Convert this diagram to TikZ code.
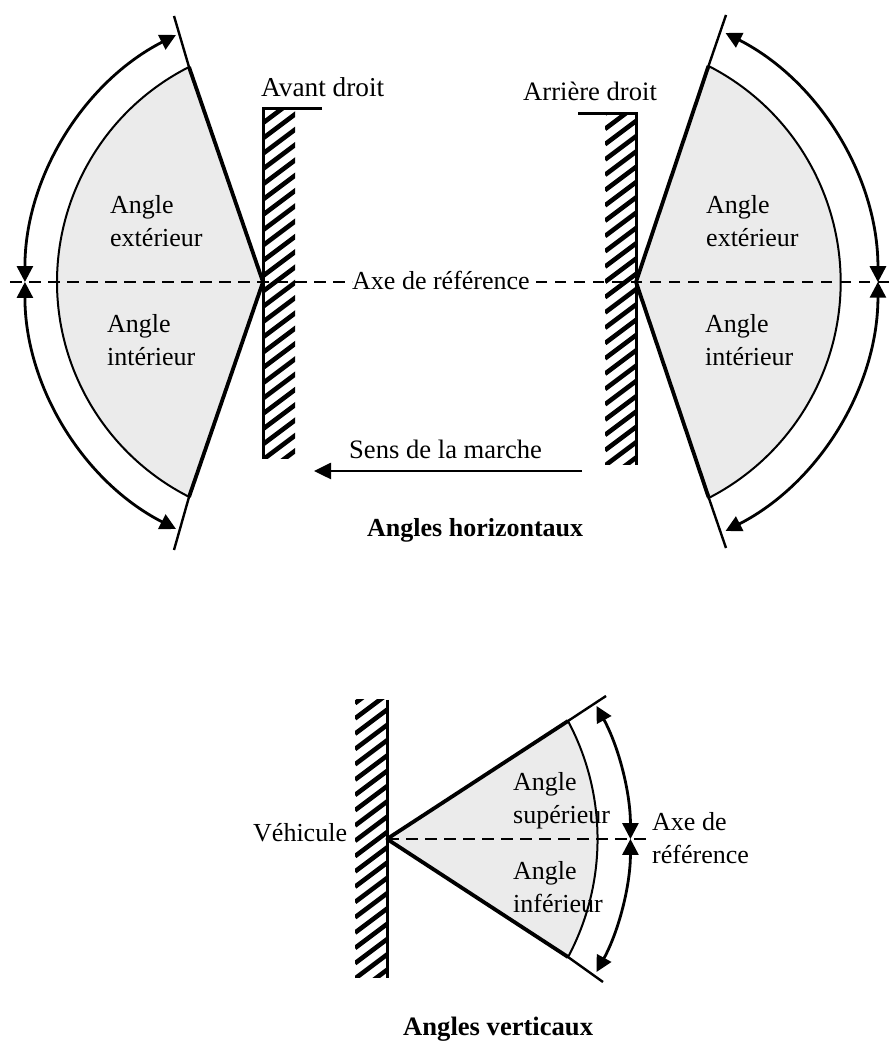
\documentclass[tikz,border=0pt]{standalone}
\usepackage{fontspec}
\setmainfont{Liberation Serif}
\usetikzlibrary{arrows.meta}
\tikzstyle{txt}=[inner sep=0pt, align=left, font=\fontsize{26}{33}\selectfont]
\tikzstyle{wide}=[txt, font=\fontsize{26.6}{33}\selectfont]
\tikzstyle{title}=[inner sep=0pt, font=\fontsize{26}{33}\selectfont\bfseries]
\tikzstyle{thin}=[line width=2.4pt]
\tikzstyle{thick}=[line width=3.8pt]
\tikzstyle{border}=[line width=3pt]
\tikzstyle{axis}=[line width=2.8pt, dash pattern=on 11.5pt off 7.5pt]
\tikzstyle{span}=[line width=2.8pt, {Triangle[length=16pt, width=16pt]}-{Triangle[length=16pt, width=16pt]}]
\tikzstyle{sector}=[fill=black!8, draw=black, line width=2pt]
\newcommand{\hatchwall}[4]{
    \begin{scope}
        \clip (#1, #3) rectangle (#2, #4);
        \foreach \y in {-31.2, -15.9, ..., 400}
            \draw[line width=4.6pt] (#1, #3 + \y) -- ++(34, 25.5);
    \end{scope}
}

\begin{document}
\begin{tikzpicture}[x=1pt, y=1pt]
        \useasboundingbox (0, 0) rectangle (889, 1041);
        \coordinate (LA) at (263, 759);
        \coordinate (LT) at (174, 1025);
        \coordinate (LB) at (174, 491);
        \coordinate (LST) at (189, 974);
        \coordinate (LSB) at (189, 544);
        \coordinate (LAT) at (176, 1006);
        \coordinate (LAB) at (176, 512);
        \coordinate (RA) at (636, 759);
        \coordinate (RT) at (726, 1026);
        \coordinate (RB) at (726, 493);
        \coordinate (RST) at (708.5, 975);
        \coordinate (RSB) at (708.5, 544);
        \coordinate (RAT) at (725.5, 1008);
        \coordinate (RAB) at (725.5, 510);
        \coordinate (VA) at (387, 202);
        \coordinate (VT) at (606, 345);
        \coordinate (VB) at (603, 59);
        \coordinate (VST) at (568, 320);
        \coordinate (VSB) at (568, 84);
        \coordinate (VAT) at (596.5, 335);
        \coordinate (VAB) at (596.5, 69);
        % sectors
        \draw[sector] (LST) arc[start angle=116.9, end angle=243.1, radius=241] -- (LA) -- cycle;
        \draw[sector] (RST) arc[start angle=62.9, end angle=-62.9, radius=242.7] -- (RA) -- cycle;
        \draw[sector] (VST) arc[start angle=28.1, end angle=-28.1, radius=250.7] -- (VA) -- cycle;
        % walls
        \hatchwall{263}{295}{582}{932}
        \hatchwall{605}{636}{576}{927}
        \hatchwall{355}{387}{63}{341}
        \coordinate (LW1) at (322, 932);
        \coordinate (LW2) at (263, 932);
        \coordinate (LW3) at (263, 582);
        \draw[border] (LW1) -- (LW2) -- (LW3);
        \coordinate (RW1) at (578, 927);
        \coordinate (RW2) at (636, 927);
        \coordinate (RW3) at (636, 576);
        \draw[border] (RW1) -- (RW2) -- (RW3);
        \coordinate (VW1) at (387, 341);
        \coordinate (VW2) at (387, 63);
        \draw[border] (VW1) -- (VW2);
        % limits
        \draw[thin] (LST) -- (LT);
        \draw[thin] (LSB) -- (LB);
        \draw[thick] (LA) -- (LST);
        \draw[thick] (LA) -- (LSB);
        \draw[thin] (RST) -- (RT);
        \draw[thin] (RSB) -- (RB);
        \draw[thick] (RA) -- (RST);
        \draw[thick] (RA) -- (RSB);
        \draw[thin] (VST) -- (VT);
        \draw[thin] (VSB) -- (VB);
        \draw[thick] (VA) -- (VST);
        \draw[thick] (VA) -- (VSB);
        % spans
        \draw[span] (LAT) arc[start angle=117.1, end angle=180, radius=277.5];
        \draw[span] (LAB) arc[start angle=242.9, end angle=180, radius=277.5];
        \draw[span] (RAT) arc[start angle=62.9, end angle=0, radius=280];
        \draw[span] (RAB) arc[start angle=-62.9, end angle=0, radius=280];
        \draw[span] (VAT) arc[start angle=28.6, end angle=0, radius=278];
        \draw[span] (VAB) arc[start angle=-28.6, end angle=0, radius=278];
        % axes
        \node[txt, anchor=base west] (AR) at (352, 751) {Axe de référence};
        \coordinate (AL) at (10, 759);
        \coordinate (AE) at (889, 759);
        \draw[axis] (AL) -- (AR.west |- AL);
        \draw[axis] (AE) -- (AR.east |- AE);
        \coordinate (VE) at (646, 202);
        \draw[axis] (VA) -- (VE);
        % direction
        \node[wide, anchor=base west] (SM) at (349, 582) {Sens de la marche};
        \coordinate (SR) at (582, 570);
        \coordinate (SL) at (314, 570);
        \draw[line width=2.6pt, -{Triangle[length=17pt, width=16pt]}] (SR) -- (SL);
        % labels
        \node[txt, anchor=base west, font=\fontsize{27.3}{33}\selectfont] (AD) at (261, 944) {Avant droit};
        \node[wide, anchor=base west] (RD) at (523, 940) {Arrière droit};
        \node[txt, anchor=west] (LE) at (110, 820) {Angle\\extérieur};
        \node[txt, anchor=west] (LI) at (107, 701) {Angle\\intérieur};
        \node[txt, anchor=west] (RE) at (706, 820) {Angle\\extérieur};
        \node[txt, anchor=west] (RI) at (705, 701) {Angle\\intérieur};
        \node[txt, anchor=west] (VS) at (513, 240) {Angle\\supérieur};
        \node[txt, anchor=west] (VI) at (513, 154) {Angle\\inférieur};
        \node[txt, anchor=base west] (VH) at (253, 199) {Véhicule};
        \node[txt, anchor=west] (VR) at (652, 203) {Axe de\\référence};
        \node[title, anchor=base west] (TH) at (367, 504) {Angles horizontaux};
        \node[title, anchor=base west, font=\fontsize{26.6}{33}\selectfont\bfseries] (TV) at (403, 5.5) {Angles verticaux};
    \end{tikzpicture}
\end{document}
